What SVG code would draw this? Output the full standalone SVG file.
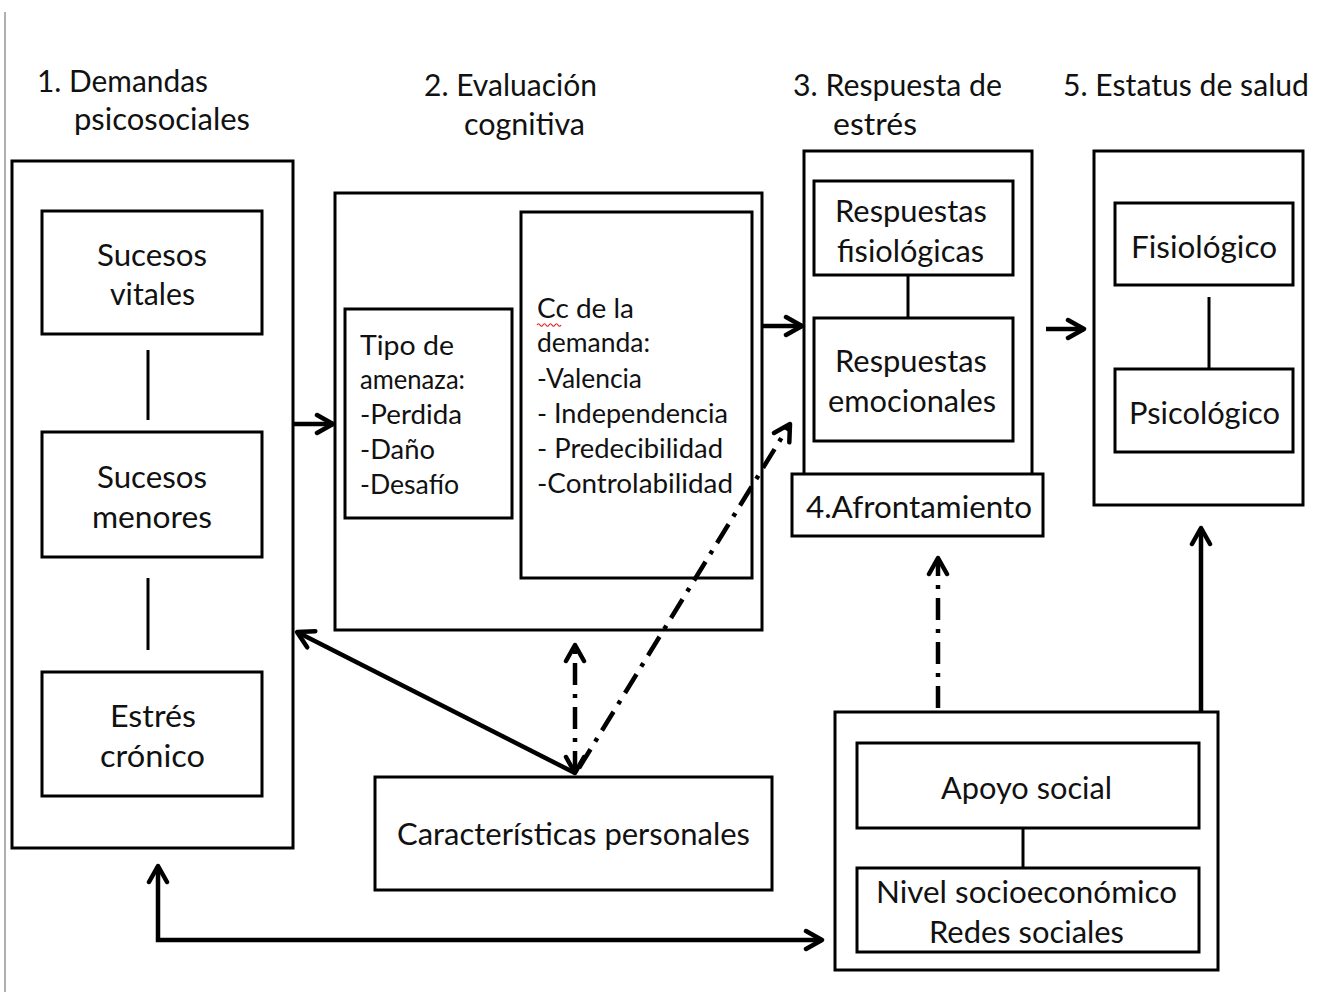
<svg xmlns="http://www.w3.org/2000/svg" width="1322" height="992" viewBox="0 0 1322 992">
<defs>
<style>
.bx{fill:#fff;stroke:#000;stroke-width:3}
.t{font-family:Lato,"Open Sans","Liberation Sans",sans-serif;font-size:30px;fill:#111}
.s{font-size:26px}
.c{text-anchor:middle}
.ln{stroke:#000;stroke-width:3;fill:none}
.ar{stroke:#000;stroke-width:4.5;fill:none}
.dd{stroke:#000;stroke-width:4.5;fill:none;stroke-dasharray:22 9 4 9}
</style>
<marker id="ah" viewBox="0 0 24 24" refX="20" refY="12" markerWidth="24" markerHeight="24" markerUnits="userSpaceOnUse" orient="auto-start-reverse">
<path d="M4,3 L20,12 L4,21" fill="none" stroke="#000" stroke-width="4.5" stroke-linecap="round" stroke-linejoin="round"/>
</marker>
</defs>
<rect width="1322" height="992" fill="#fff"/>
<line x1="5" y1="12" x2="5" y2="992" stroke="#b0b0b0" stroke-width="2"/>

<g id="titles">
<text class="t" x="37" y="92" textLength="171" lengthAdjust="spacingAndGlyphs">1. Demandas</text>
<text class="t" x="74" y="130" textLength="176" lengthAdjust="spacingAndGlyphs">psicosociales</text>
<text class="t" x="424" y="96" textLength="173" lengthAdjust="spacingAndGlyphs">2. Evaluación</text>
<text class="t" x="464" y="135" textLength="121" lengthAdjust="spacingAndGlyphs">cognitiva</text>
<text class="t" x="793" y="96" textLength="209" lengthAdjust="spacingAndGlyphs">3. Respuesta de</text>
<text class="t" x="833" y="135" textLength="84" lengthAdjust="spacingAndGlyphs">estrés</text>
<text class="t" x="1063" y="96" textLength="246" lengthAdjust="spacingAndGlyphs">5. Estatus de salud</text>
</g>

<g id="demandas">
<rect class="bx" x="12" y="161" width="281" height="687"/>
</g>
<g id="sucesos-vitales">
<rect class="bx" x="42" y="211" width="220" height="123"/>
<text class="t" x="97" y="266" textLength="110" lengthAdjust="spacingAndGlyphs">Sucesos</text>
<text class="t" x="110" y="305" textLength="85" lengthAdjust="spacingAndGlyphs">vitales</text>
</g>
<g id="sucesos-menores">
<rect class="bx" x="42" y="432" width="220" height="125"/>
<text class="t" x="97" y="488" textLength="110" lengthAdjust="spacingAndGlyphs">Sucesos</text>
<text class="t" x="92" y="528" textLength="120" lengthAdjust="spacingAndGlyphs">menores</text>
</g>
<g id="estres-cronico">
<rect class="bx" x="42" y="672" width="220" height="124"/>
<text class="t" x="110" y="727" textLength="86" lengthAdjust="spacingAndGlyphs">Estrés</text>
<text class="t" x="100" y="767" textLength="105" lengthAdjust="spacingAndGlyphs">crónico</text>
</g>

<g id="evaluacion">
<rect class="bx" x="335" y="193" width="427" height="437"/>
</g>
<g id="tipo-amenaza">
<rect class="bx" x="345" y="309" width="167" height="209"/>
<text class="t s" x="360" y="355" textLength="94" lengthAdjust="spacingAndGlyphs">Tipo de</text>
<text class="t s" x="360" y="389" textLength="105" lengthAdjust="spacingAndGlyphs">amenaza:</text>
<text class="t s" x="360" y="424" textLength="102" lengthAdjust="spacingAndGlyphs">-Perdida</text>
<text class="t s" x="360" y="459" textLength="75" lengthAdjust="spacingAndGlyphs">-Daño</text>
<text class="t s" x="360" y="494" textLength="99" lengthAdjust="spacingAndGlyphs">-Desafío</text>
</g>
<g id="cc-demanda">
<rect class="bx" x="521" y="212" width="231" height="366"/>
<text class="t s" x="537" y="318" textLength="97" lengthAdjust="spacingAndGlyphs">Cc de la</text>
<path d="M537,325 q1.5,-2.5 3,0 t3,0 t3,0 t3,0 t3,0 t3,0 t3,0 t3,0" fill="none" stroke="#e02020" stroke-width="1.2"/>
<text class="t s" x="537" y="352" textLength="113" lengthAdjust="spacingAndGlyphs">demanda:</text>
<text class="t s" x="537" y="388" textLength="105" lengthAdjust="spacingAndGlyphs">-Valencia</text>
<text class="t s" x="537" y="423" textLength="191" lengthAdjust="spacingAndGlyphs">- Independencia</text>
<text class="t s" x="537" y="458" textLength="186" lengthAdjust="spacingAndGlyphs">- Predecibilidad</text>
<text class="t s" x="537" y="493" textLength="196" lengthAdjust="spacingAndGlyphs">-Controlabilidad</text>
</g>

<g id="respuesta-estres">
<rect class="bx" x="804" y="151" width="228" height="324"/>
</g>
<g id="resp-fisiologicas">
<rect class="bx" x="814" y="181" width="199" height="94"/>
<text class="t" x="835" y="222" textLength="152" lengthAdjust="spacingAndGlyphs">Respuestas</text>
<text class="t" x="837" y="262" textLength="147" lengthAdjust="spacingAndGlyphs">fisiológicas</text>
</g>
<g id="resp-emocionales">
<rect class="bx" x="814" y="318" width="199" height="123"/>
<text class="t" x="835" y="372" textLength="152" lengthAdjust="spacingAndGlyphs">Respuestas</text>
<text class="t" x="828" y="412" textLength="168" lengthAdjust="spacingAndGlyphs">emocionales</text>
</g>
<g id="afrontamiento">
<rect class="bx" x="792" y="474" width="251" height="62"/>
<text class="t" x="806" y="518" textLength="226" lengthAdjust="spacingAndGlyphs">4.Afrontamiento</text>
</g>

<g id="estatus-salud">
<rect class="bx" x="1094" y="151" width="209" height="354"/>
</g>
<g id="fisiologico">
<rect class="bx" x="1115" y="203" width="178" height="82"/>
<text class="t" x="1131" y="258" textLength="146" lengthAdjust="spacingAndGlyphs">Fisiológico</text>
</g>
<g id="psicologico">
<rect class="bx" x="1115" y="369" width="178" height="83"/>
<text class="t" x="1129" y="424" textLength="151" lengthAdjust="spacingAndGlyphs">Psicológico</text>
</g>

<g id="caracteristicas">
<rect class="bx" x="375" y="777" width="397" height="113"/>
<text class="t" x="397" y="845" textLength="353" lengthAdjust="spacingAndGlyphs">Características personales</text>
</g>

<g id="recursos">
<rect class="bx" x="835" y="712" width="383" height="258"/>
</g>
<g id="apoyo-social">
<rect class="bx" x="857" y="743" width="342" height="85"/>
<text class="t" x="941" y="799" textLength="171" lengthAdjust="spacingAndGlyphs">Apoyo social</text>
</g>
<g id="nivel-redes">
<rect class="bx" x="857" y="868" width="342" height="84"/>
<text class="t" x="876" y="903" textLength="301" lengthAdjust="spacingAndGlyphs">Nivel socioeconómico</text>
<text class="t" x="929" y="943" textLength="195" lengthAdjust="spacingAndGlyphs">Redes sociales</text>
</g>

<g id="connectors">
<line class="ln" x1="148" y1="350" x2="148" y2="420"/>
<line class="ln" x1="148" y1="578" x2="148" y2="650"/>
<line class="ln" x1="908" y1="275" x2="908" y2="318"/>
<line class="ln" x1="1209" y1="297" x2="1209" y2="368"/>
<line class="ln" x1="1023" y1="828" x2="1023" y2="868"/>
<line class="ar" x1="294" y1="424" x2="333" y2="424" marker-end="url(#ah)"/>
<line class="ar" x1="763" y1="326" x2="802" y2="326" marker-end="url(#ah)"/>
<line class="ar" x1="1046" y1="329" x2="1084" y2="329" marker-end="url(#ah)"/>
<line class="ar" x1="1201" y1="712" x2="1201" y2="528" marker-end="url(#ah)"/>
<line class="dd" x1="938" y1="708" x2="938" y2="558" marker-end="url(#ah)"/>
<line class="ar" x1="575" y1="773" x2="297" y2="632" marker-end="url(#ah)"/>
<line class="dd" x1="575" y1="773" x2="575" y2="645" marker-start="url(#ah)" marker-end="url(#ah)"/>
<line class="dd" x1="579" y1="768" x2="790" y2="424" marker-end="url(#ah)"/>
<polyline class="ar" points="158,866 158,940 822,940" marker-start="url(#ah)" marker-end="url(#ah)"/>
</g>
</svg>
